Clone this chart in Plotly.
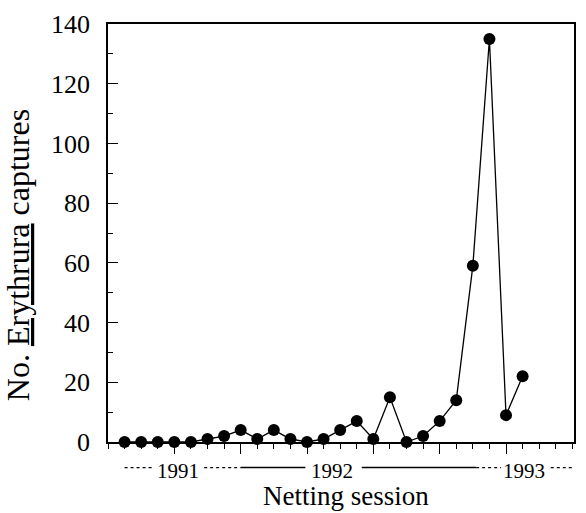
import plotly.graph_objects as go

# ---- data ----
sessions = list(range(1, 26))
captures = [0, 0, 0, 0, 0, 1, 2, 4, 1, 4, 1, 0, 1, 4, 7, 1, 15, 0, 2, 7, 14, 59, 135, 9, 22]

year_labels = ["1991", "1992", "1993"]
year_label_x = [4.2, 13.5, 25.1]

# season bar segments beneath the axis (start, end, style)
seg_start = [1.0, 5.8, 8.0, 15.3, 22.2, 26.7]
seg_end = [2.8, 8.0, 11.9, 22.2, 23.7, 28.6]
seg_dash = ["dot", "dot", "solid", "solid", "dot", "dot"]

FONT = "Liberation Serif"

fig = go.Figure()
fig.add_trace(go.Scatter(
    x=sessions, y=captures, mode="lines+markers",
    line=dict(color="black", width=1.3),
    marker=dict(color="black", size=12),
    cliponaxis=False, showlegend=False,
))

fig.update_layout(
    width=586, height=513,
    margin=dict(l=108, r=10, t=18, b=71),
    paper_bgcolor="white", plot_bgcolor="white",
    font=dict(family=FONT, color="black"),
    xaxis=dict(
        range=[0, 28.1], showgrid=False, zeroline=False,
        showline=True, linecolor="black", linewidth=1.5, mirror=True,
        tickmode="array", tickvals=[4, 8, 12, 16, 20, 24],
        ticks="outside", ticklen=10, tickcolor="black", tickwidth=1,
        showticklabels=False,
        minor=dict(dtick=1, tick0=0, ticks="outside", ticklen=5, tickcolor="black"),
    ),
    yaxis=dict(
        range=[0, 140], showgrid=False, zeroline=False,
        showline=True, linecolor="black", linewidth=1.5, mirror=True,
        dtick=20, ticks="inside", ticklen=10, tickcolor="black", tickwidth=1,
        tickfont=dict(family=FONT, size=26, color="black"),
        ticklabelstandoff=11,
        minor=dict(dtick=10, ticks="inside", ticklen=5, tickcolor="black"),
    ),
)

for s, e, d in zip(seg_start, seg_end, seg_dash):
    fig.add_shape(type="line", xref="x", yref="paper", x0=s, x1=e, y0=-0.0613, y1=-0.0613,
                  line=dict(color="black", width=1.5 if d == "solid" else 1.2, dash=d))

for lbl, xv in zip(year_labels, year_label_x):
    fig.add_annotation(x=xv, y=-0.0684, xref="x", yref="paper", text=lbl, showarrow=False,
                       font=dict(family=FONT, size=21, color="black"), borderpad=0,
                       xanchor="center", yanchor="middle")

fig.add_annotation(x=0.5117, y=-0.1675, xref="paper", yref="paper", text="Netting session",
                   showarrow=False, font=dict(family=FONT, size=27, color="black"), borderpad=0,
                   xanchor="center", yanchor="bottom")
fig.add_annotation(x=-0.194, y=0.446, xref="paper", yref="paper",
                   text='No. <span style="text-decoration:underline">Erythrura</span> captures',
                   textangle=-90, showarrow=False, font=dict(family=FONT, size=32, color="black"),
                   xanchor="center", yanchor="middle")

fig.write_html("out.html", config={"displayModeBar": False},
               post_script="document.body.style.margin='0';")
